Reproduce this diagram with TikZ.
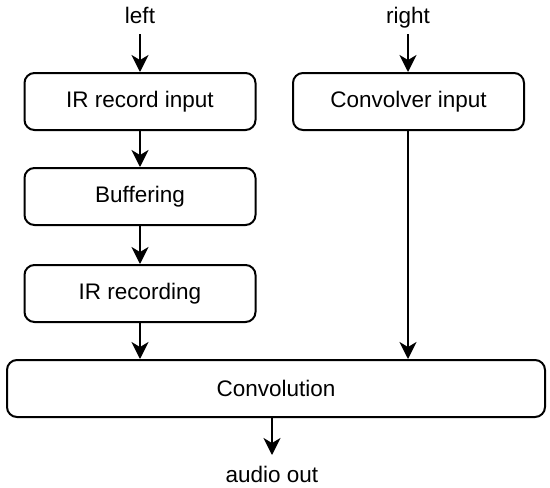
\documentclass[tikz,border=0pt]{standalone}
\usepackage{fontspec}
\setmainfont{Liberation Sans}
\usetikzlibrary{arrows.meta}
\begin{document}
\begin{tikzpicture}[x=1pt,y=-1pt,
  blk/.style={draw,line width=2pt,rounded corners=10pt,minimum height=57pt,inner sep=0pt,font=\fontsize{22.5}{26}\selectfont},
  lbl/.style={inner sep=0pt,anchor=base,font=\fontsize{22.5}{26}\selectfont},
  arr/.style={line width=2pt,-{Stealth[length=17pt,width=17pt,inset=5pt]}}]
\useasboundingbox (0,0) rectangle (550,488);
\node[blk,minimum width=231pt] (rin) at (140,101.5) {IR record input};
\node[blk,minimum width=231pt] (cin) at (408.5,101.5) {Convolver input};
\node[blk,minimum width=231pt] (buf) at (140,196.5) {Buffering};
\node[blk,minimum width=231pt] (rec) at (140,293.5) {IR recording};
\node[blk,minimum width=538pt] (conv) at (276,388.5) {Convolution};
\node[lbl] (left) at (140,23) {left};
\node[lbl] (right) at (408,23) {right};
\node[lbl] (out) at (272,482) {audio out};
\coordinate (lt) at (140,34);
\coordinate (rt) at (408,34);
\coordinate (ot) at (272,455);
\draw[arr] (lt) -- (rin.north);
\draw[arr] (rt) -- (rt |- cin.north);
\draw[arr] (rin) -- (buf);
\draw[arr] (buf) -- (rec);
\draw[arr] (rec.south) -- (rec.south |- conv.north);
\draw[arr] (rt |- cin.south) -- (rt |- conv.north);
\draw[arr] (ot |- conv.south) -- (ot);
\end{tikzpicture}
\end{document}
